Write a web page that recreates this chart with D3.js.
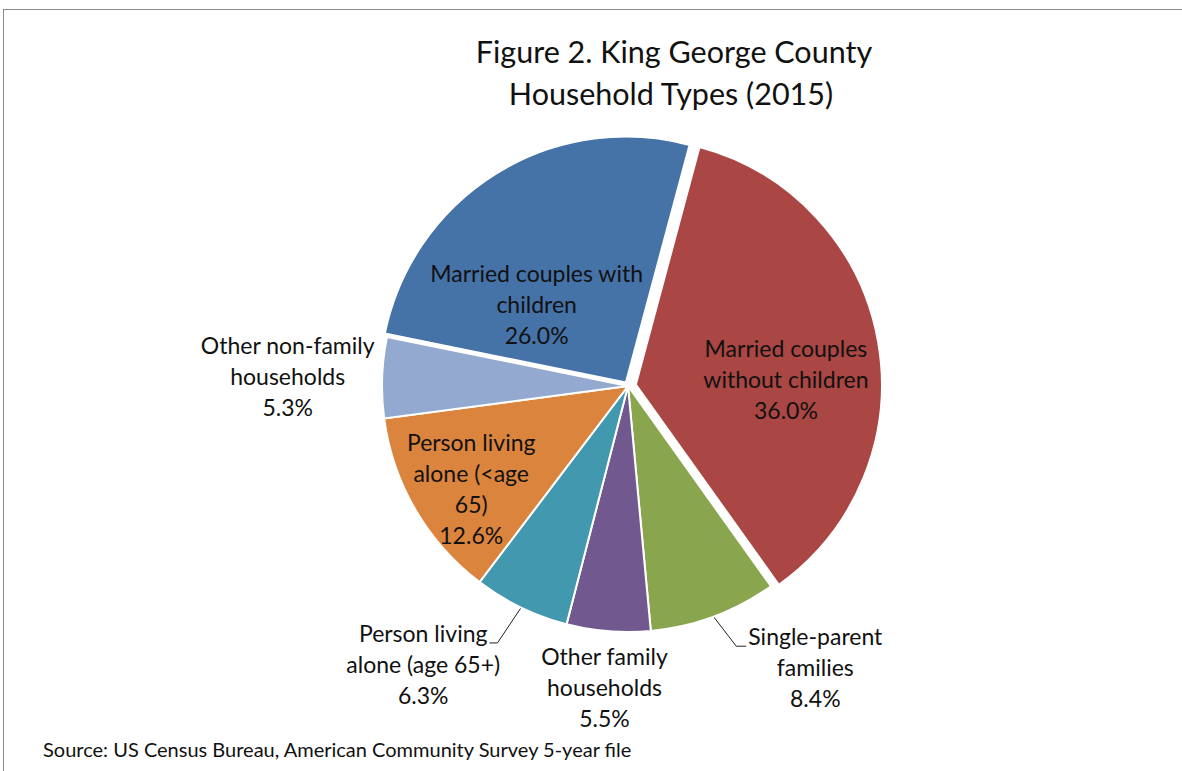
<!DOCTYPE html>
<html>
<head>
<meta charset="utf-8">
<script src="https://cdn.jsdelivr.net/npm/d3@7"></script>
<style>
  body { margin: 0; background: #fff; }
  text { font-family: Lato, "Open Sans", sans-serif; fill: #111; }
</style>
</head>
<body>
<script>
// household types, in the order Excel draws them (clockwise from the top)
const categories = [
    'Married couples without children',
    'Single-parent families',
    'Other family households',
    'Person living alone (age 65+)',
    'Person living alone (<age 65)',
    'Other non-family households',
    'Married couples with children'
]
const values = [36.0, 8.4, 5.5, 6.3, 12.6, 5.3, 26.0]

// how each label wraps in the original
const labelLines = [
    ['Married couples', 'without children'],
    ['Single-parent', 'families'],
    ['Other family', 'households'],
    ['Person living', 'alone (age 65+)'],
    ['Person living', 'alone (<age', '65)'],
    ['Other non-family', 'households'],
    ['Married couples with', 'children']
]

const colors = ['#AA4643', '#89A54E', '#71588F', '#4198AF', '#DB843D', '#93A9CF', '#4572A7']

const titleLines = ['Figure 2. King George County', 'Household Types (2015)']
const source = 'Source: US Census Bureau, American Community Survey 5-year file'

const m = {
    width: 1182,
    height: 771,
    cx: 628,
    cy: 386,
    r: 246
}

// layout tweaks: slice explosion, label inside/outside and nudges
const explode = [8, 0, 0, 0, 0, 0, 4]
const inside = [true, false, false, false, true, false, true]
const nudge = [[0, 23], [80, -6], [1, -5], [-71, 2], [-25, 27], [-33, 1], [-9, 52]]
const leader = [false, 'left', false, 'right', false, false, false]

const svg = d3.select('body').append('svg')
    .attr('width', m.width)
    .attr('height', m.height)

// chart area border (top and left edges visible)
svg.append('rect')
    .attr('x', 3.5)
    .attr('y', 9.5)
    .attr('width', m.width + 10)
    .attr('height', m.height + 10)
    .attr('fill', 'none')
    .attr('stroke', '#8c8c8c')
    .attr('stroke-width', 1)

// title
svg.append('text')
    .attr('x', 674)
    .attr('y', 63)
    .attr('text-anchor', 'middle')
    .style('font-size', '30.5px')
    .text(titleLines[0])
svg.append('text')
    .attr('x', 671)
    .attr('y', 105)
    .attr('text-anchor', 'middle')
    .style('font-size', '30.5px')
    .text(titleLines[1])

const data = categories.map(function(c, i) {
    return { name: c, value: values[i], i: i }
})

const pie = d3.pie()
    .sort(null)
    .value(function(d) { return d.value })
    .startAngle(15 * Math.PI / 180)
    .endAngle(375 * Math.PI / 180)

const arcs = pie(data)

const arc = d3.arc().innerRadius(0).outerRadius(m.r)
const inArc = d3.arc().innerRadius(m.r * 0.62).outerRadius(m.r * 0.62)
const outArc = d3.arc().innerRadius(m.r * 1.25).outerRadius(m.r * 1.25)
const edgeArc = d3.arc().innerRadius(m.r + 1).outerRadius(m.r + 1)

function shift(d) {
    const a = (d.startAngle + d.endAngle) / 2
    const e = explode[d.data.i]
    return [Math.sin(a) * e, -Math.cos(a) * e]
}

const g = svg.append('g')
    .attr('transform', 'translate(' + m.cx + ',' + m.cy + ')')

g.selectAll('path')
    .data(arcs)
    .enter()
    .append('path')
        .attr('transform', function(d) {
            const s = shift(d)
            return 'translate(' + s[0] + ',' + s[1] + ')'
        })
        .attr('d', arc)
        .attr('fill', function(d) { return colors[d.data.i] })
        .attr('stroke', '#fff')
        .attr('stroke-width', 2)

// data labels
const fs = 23
const lh = 31
arcs.forEach(function(d) {
    const i = d.data.i
    const s = shift(d)
    const c = (inside[i] ? inArc : outArc).centroid(d)
    const x = c[0] + s[0] + nudge[i][0]
    const y = c[1] + s[1] + nudge[i][1]
    const lines = labelLines[i].concat([d3.format('.1f')(d.data.value) + '%'])
    const n = lines.length

    const t = g.append('text')
        .attr('text-anchor', 'middle')
        .style('font-size', fs + 'px')
    lines.forEach(function(l, k) {
        t.append('tspan')
            .attr('x', x)
            .attr('y', y + (k - (n - 1) / 2) * lh + fs * 0.35)
            .text(l)
    })

    if (leader[i]) {
        const first = t.select('tspan').node()
        const w = first.getComputedTextLength()
        const by = y + (0 - (n - 1) / 2) * lh + fs * 0.35 + 1
        const p = edgeArc.centroid(d)
        let pts
        if (leader[i] === 'right') {
            const ex = x + w / 2 + 2
            pts = [[ex, by], [ex + 8, by], p]
        } else {
            const ex = x - w / 2 - 2
            pts = [[ex, by], [ex - 10, by], p]
        }
        g.append('path')
            .attr('d', d3.line()(pts))
            .attr('fill', 'none')
            .attr('stroke', '#222')
            .attr('stroke-width', 1)
    }
})

// source note
svg.append('text')
    .attr('x', 43)
    .attr('y', 757)
    .style('font-size', '20px')
    .text(source)
</script>
</body>
</html>
